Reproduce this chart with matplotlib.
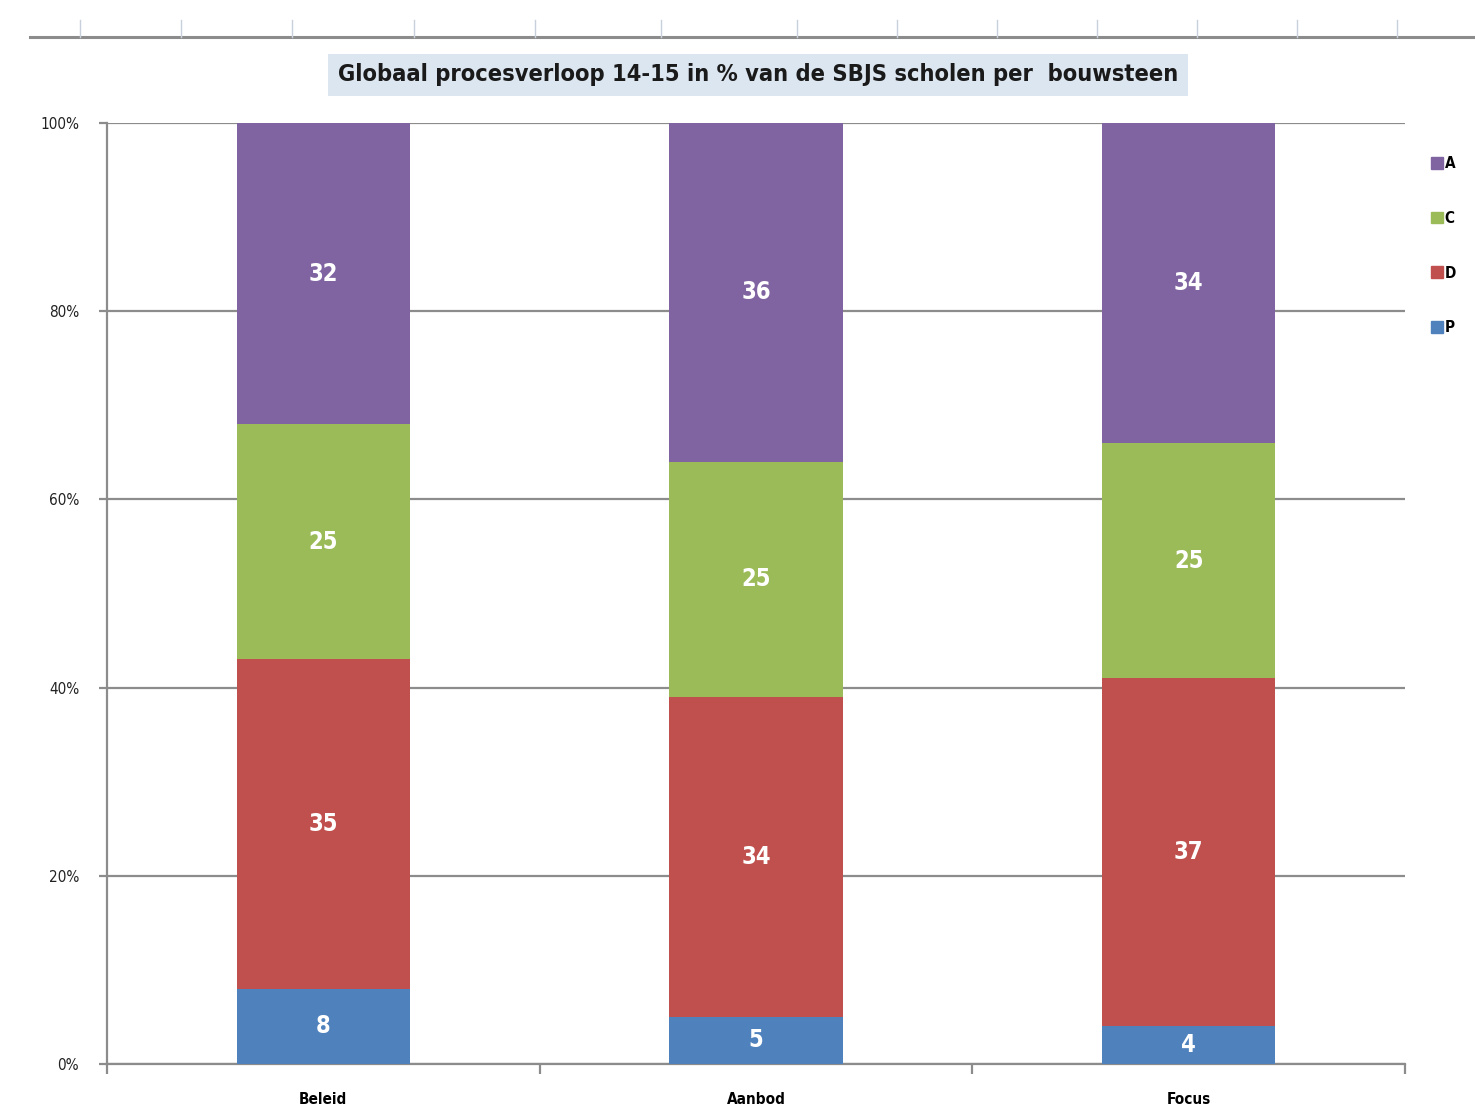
import matplotlib.pyplot as plt
import numpy as np
from matplotlib.patches import Patch

categories = ["Beleid", "Aanbod", "Focus"]
series = ["P", "D", "C", "A"]
values = {
    "P": [8, 5, 4],
    "D": [35, 34, 37],
    "C": [25, 25, 25],
    "A": [32, 36, 34],
}
colors = {"P": "#4f81bd", "D": "#c0504d", "C": "#9bbb59", "A": "#8064a2"}
yticks = [0, 20, 40, 60, 80, 100]
title = "Globaal procesverloop 14-15 in % van de SBJS scholen per  bouwsteen"

plt.rcParams["font.family"] = ["DejaVu Sans"]
plt.rcParams["font.stretch"] = "condensed"

W, H = 1475, 1106
fig = plt.figure(figsize=(W / 100, H / 100), dpi=100)
ax = fig.add_axes([107 / W, 1 - 1064 / H, (1405 - 107) / W, (1064 - 123) / H])

x = np.arange(len(categories))
bottom = np.zeros(len(categories))
for s in series:
    v = np.array(values[s], dtype=float)
    ax.bar(x, v, bottom=bottom, width=0.4, color=colors[s], zorder=3)
    for xi, b, vi in zip(x, bottom, v):
        ax.text(xi, b + vi / 2, str(int(vi)), ha="center", va="center",
                color="white", fontsize=17, fontweight="bold", zorder=4)
    bottom += v

ax.set_xlim(-0.5, len(categories) - 0.5)
ax.set_ylim(0, 100)
ax.set_yticks(yticks)
ax.set_yticklabels([f"{t}%" for t in yticks], fontsize=11, color="#222222")
ax.yaxis.grid(True, color="#8c8c8c", linewidth=1.6, zorder=0)
ax.tick_params(axis="y", length=6, color="#8c8c8c", width=1.6, pad=14)

ax.set_xticks(x)
ax.set_xticklabels(categories, fontsize=11, fontweight="bold")
ax.set_xticks(np.arange(-0.5, len(categories)), minor=True)
ax.tick_params(axis="x", which="major", length=0, pad=20)
ax.tick_params(axis="x", which="minor", length=7, color="#8c8c8c", width=1.6)

for side in ["top", "right"]:
    ax.spines[side].set_visible(False)
for side in ["left", "bottom"]:
    ax.spines[side].set_color("#8c8c8c")
    ax.spines[side].set_linewidth(1.6)

# spreadsheet header strip at the top
fig.add_artist(plt.Line2D([30 / W, 1], [1 - 37 / H] * 2, color="#8c8c8c", lw=2.2))
for px in [80, 181, 292, 414, 535, 661, 797, 897, 997, 1097, 1197, 1297, 1397]:
    fig.add_artist(plt.Line2D([px / W] * 2, [1 - 37 / H, 1 - 20 / H],
                              color="#c8d0dc", lw=1))

fig.text(758 / W, 1 - 75 / H, title, ha="center", va="center",
         fontsize=16.9, fontweight="bold", color="#1a1a1a",
         bbox=dict(boxstyle="square,pad=0.4", fc="#dce6f1", ec="none"))

handles = [Patch(color=colors[s], label=s) for s in ["A", "C", "D", "P"]]
fig.legend(handles=handles, loc="upper left", bbox_to_anchor=(1425 / W, 1 - 150 / H),
           frameon=False, handlelength=0.8, handleheight=0.8,
           handletextpad=0.1, labelspacing=2.6, borderaxespad=0,
           prop=dict(size=11, stretch="condensed", weight="bold"))

plt.savefig("out.png", dpi=100)
